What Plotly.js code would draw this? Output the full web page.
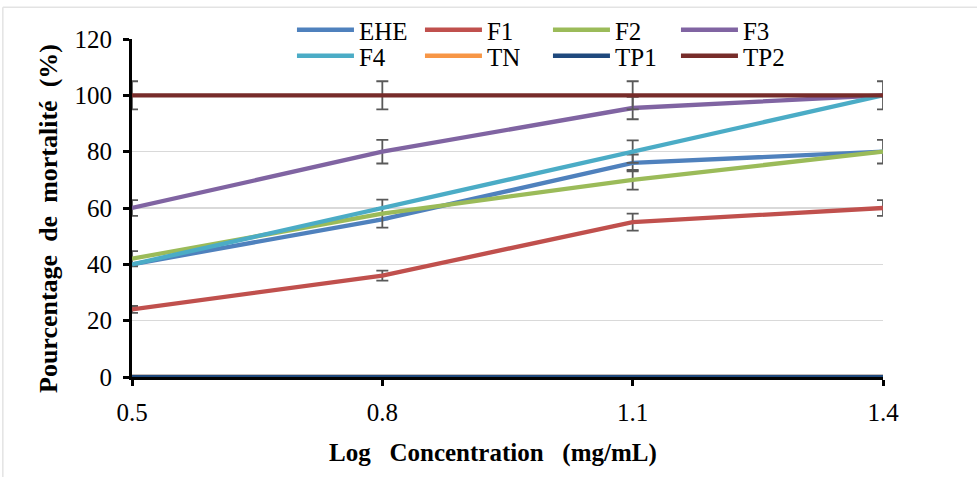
<!DOCTYPE html>
<html>
<head>
<meta charset="utf-8">
<script src="https://cdn.plot.ly/plotly-3.0.1.min.js"></script>
<style>html,body{margin:0;padding:0;background:#fff;}#chart{width:977px;height:477px;}</style>
</head>
<body>
<div id="chart"></div>
<script>
var concentrations = [0.5, 0.8, 1.1, 1.4];
var tickLabels = ["0.5", "0.8", "1.1", "1.4"];
var yTicks = [0, 20, 40, 60, 80, 100, 120];
var seriesNames = ["EHE", "F1", "F2", "F3", "F4", "TN", "TP1", "TP2"];
var EHE = [40, 56, 76, 80];
var F1 = [24, 36, 55, 60];
var F2 = [42, 58, 70, 80];
var F3 = [60, 80, 95.5, 100];
var F4 = [40, 60, 80, 100];
var TN = [0, 0, 0, 0];
var TP1 = [0, 0, 0, 0];
var TP2 = [100, 100, 100, 100];
var errEHE = [null, null, 3, 4.2];
var errF1 = [1.2, 1.8, 3, 2.8];
var errF2 = [2.7, 5, 3.5, null];
var errF3 = [2.8, 4.2, 4, null];
var errF4 = [null, null, 4, null];
var errTN = [null, null, null, null];
var errTP1 = [null, null, null, null];
var errTP2 = [5, 5, 5, 5];
var colors = ["#4F81BD", "#C0504D", "#9BBB59", "#8064A2", "#4BACC6", "#F79646", "#1F497D", "#772C2A"];
var legendRow = ["legend", "legend", "legend", "legend", "legend2", "legend2", "legend2", "legend2"];

var values = [EHE, F1, F2, F3, F4, TN, TP1, TP2];
var errors = [errEHE, errF1, errF2, errF3, errF4, errTN, errTP1, errTP2];

var traces = seriesNames.map(function (name, i) {
  var hasErr = errors[i].some(function (v) { return v !== null; });
  var t = {
    x: concentrations,
    y: values[i],
    name: name,
    legend: legendRow[i],
    type: "scatter",
    mode: "lines",
    line: {color: colors[i], width: 4.3}
  };
  if (hasErr) {
    t.error_y = {type: "data", array: errors[i], visible: true, color: "#595959", thickness: 1.8, width: 6};
  }
  return t;
});

var font = "Liberation Serif, Times New Roman, serif";
function legendOpts(yPos) {
  return {
    orientation: "h",
    x: 0.2130, xanchor: "left",
    y: yPos, yanchor: "middle",
    bgcolor: "rgba(0,0,0,0)",
    font: {family: font, size: 25, color: "#000"},
    entrywidth: 56,
    entrywidthmode: "pixels",
    itemwidth: 57,
    traceorder: "normal"
  };
}
var layout = {
  width: 977,
  height: 477,
  margin: {l: 132, r: 94, t: 39, b: 100, autoexpand: false},
  paper_bgcolor: "#ffffff",
  plot_bgcolor: "#ffffff",
  font: {family: font, size: 25, color: "#000"},
  showlegend: true,
  legend: legendOpts(1.0266),
  legend2: legendOpts(0.9497),
  xaxis: {
    range: [0.5, 1.4],
    tickmode: "array",
    tickvals: concentrations,
    ticktext: tickLabels,
    showgrid: false,
    zeroline: false,
    showline: true,
    linecolor: "#000",
    linewidth: 3,
    ticks: "outside",
    ticklen: 6,
    tickwidth: 3,
    tickcolor: "#000",
    ticklabelstandoff: 5,
    tickfont: {family: font, size: 25}
  },
  yaxis: {
    range: [0, 120],
    tickmode: "array",
    tickvals: yTicks,
    showgrid: true,
    gridcolor: "#d9d9d9",
    gridwidth: 1.5,
    zeroline: false,
    showline: true,
    linecolor: "#000",
    linewidth: 3,
    ticks: "outside",
    ticklen: 6,
    tickwidth: 3,
    tickcolor: "#000",
    ticklabelstandoff: 6,
    tickfont: {family: font, size: 25}
  },
  annotations: [
    {xref: "paper", yref: "paper", x: 0.4807, y: -0.2249, xanchor: "center", yanchor: "middle", showarrow: false,
     text: "<b>Log&nbsp;&nbsp; Concentration&nbsp;&nbsp; (mg/mL)</b>", font: {family: font, size: 25, color: "#000"}},
    {xref: "paper", yref: "paper", x: -0.1105, y: 0.4675, xanchor: "center", yanchor: "middle", showarrow: false, textangle: -90,
     text: "<b>Pourcentage&nbsp; de&nbsp; mortalité&nbsp; (%)</b>", font: {family: font, size: 26, color: "#000"}}
  ],
  shapes: [
    {type: "line", xref: "paper", yref: "paper", x0: -0.172, x1: 1.2, y0: 1.094, y1: 1.094, line: {color: "#e3e3e3", width: 1.5}},
    {type: "line", xref: "paper", yref: "paper", x0: -0.172, x1: -0.172, y0: 1.094, y1: -0.3, line: {color: "#e3e3e3", width: 1.5}}
  ]
};

Plotly.newPlot("chart", traces, layout, {displayModeBar: false, staticPlot: true});
</script>
</body>
</html>
